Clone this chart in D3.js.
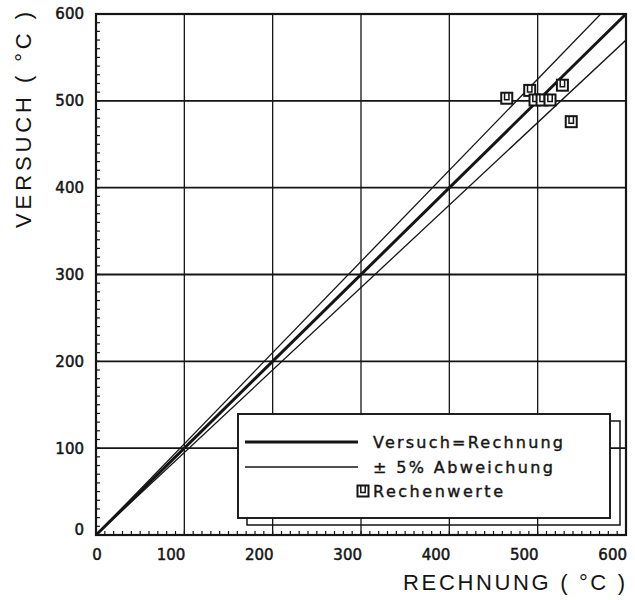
<!DOCTYPE html>
<html><head><meta charset="utf-8">
<script src="https://cdn.jsdelivr.net/npm/d3@7"></script>
<style>body{margin:0;background:#fff}svg{display:block}</style>
</head><body>
<svg id="c" width="635" height="600"></svg>
<script>
// ---- data ----
const xTicks = [0, 100, 200, 300, 400, 500, 600];
const yTicks = [0, 100, 200, 300, 400, 500, 600];
const rechnung = [465, 491, 497, 505, 514, 528, 538];   // x values (Rechnung)
const versuch  = [503, 512, 501, 501, 501, 518, 476];   // y values (Versuch)
const lineFactors = [1, 1.05, 0.95];                     // Versuch = f * Rechnung
const legendLabels = ["Versuch=Rechnung", "± 5% Abweichung", "Rechenwerte"];
const xTitle = "RECHNUNG ( °C )";
const yTitle = "VERSUCH ( °C )";

// ---- layout ----
const L = 96, R = 626, T = 14, B = 535;
const ink = "#151515";
const svg = d3.select("#c");
const x = d3.scaleLinear().domain([0, 600]).range([L, R]);
const y = d3.scaleLinear().domain([0, 600]).range([B, T]);

svg.append("rect").attr("width", 635).attr("height", 600).attr("fill", "#fff");

svg.append("clipPath").attr("id", "clip")
  .append("rect").attr("x", L).attr("y", T).attr("width", R - L).attr("height", B - T);

// grid
svg.append("g").selectAll("line").data(xTicks.filter(v => v > 0 && v < 600)).join("line")
  .attr("x1", d => x(d)).attr("x2", d => x(d)).attr("y1", T).attr("y2", B)
  .attr("stroke", ink).attr("stroke-width", 1.3);
svg.append("g").selectAll("line").data(yTicks.filter(v => v > 0 && v < 600)).join("line")
  .attr("x1", L).attr("x2", R).attr("y1", d => y(d)).attr("y2", d => y(d))
  .attr("stroke", ink).attr("stroke-width", 1.9);

// minor ticks (inward)
const minor = d3.range(10, 600, 10);
svg.append("g").selectAll("line").data(minor).join("line")
  .attr("x1", L).attr("x2", L + 4).attr("y1", d => y(d)).attr("y2", d => y(d))
  .attr("stroke", ink).attr("stroke-width", 1.2);
svg.append("g").selectAll("line").data(minor).join("line")
  .attr("x1", d => x(d)).attr("x2", d => x(d)).attr("y1", B).attr("y2", B - 4)
  .attr("stroke", ink).attr("stroke-width", 1.2);

// diagonal lines
const lineGen = d3.line().x(d => x(d[0])).y(d => y(d[1]));
svg.append("g").attr("clip-path", "url(#clip)").selectAll("path").data(lineFactors).join("path")
  .attr("d", f => lineGen([[0, 0], [600, 600 * f]]))
  .attr("fill", "none").attr("stroke", ink)
  .attr("stroke-width", (f, i) => i === 0 ? 3 : 1.3);

// frame
svg.append("rect").attr("x", L).attr("y", T).attr("width", R - L).attr("height", B - T)
  .attr("fill", "none").attr("stroke", ink).attr("stroke-width", 2.2);

// symbol
function sym(g, cx, cy) {
  g.append("rect").attr("x", cx - 5.5).attr("y", cy - 5.5).attr("width", 11).attr("height", 11)
    .attr("fill", "#fff").attr("stroke", ink).attr("stroke-width", 2);
  g.append("path").attr("d", `M${cx-2.2},${cy-5.5}V${cy+1.5}H${cx+2.2}V${cy-5.5}`)
    .attr("fill", "none").attr("stroke", ink).attr("stroke-width", 1.5);
}
const pts = svg.append("g");
rechnung.forEach((r, i) => sym(pts, x(r), y(versuch[i])));

// tick labels
const tickFont = "'DejaVu Sans', sans-serif";
svg.append("g").selectAll("text").data(yTicks).join("text")
  .attr("x", 84).attr("y", d => d === 0 ? y(d) - 5 : y(d))
  .attr("dy", "0.36em").attr("text-anchor", "end")
  .attr("font-family", tickFont).attr("font-size", 15).attr("fill", ink)
  .attr("stroke", ink).attr("stroke-width", 0.5)
  .text(d => d);
svg.append("g").selectAll("text").data(xTicks).join("text")
  .attr("x", d => x(d) + 1)
  .attr("y", 560)
  .attr("text-anchor", d => d === 0 ? "middle" : "end")
  .attr("font-family", tickFont).attr("font-size", 15).attr("fill", ink)
  .attr("stroke", ink).attr("stroke-width", 0.5)
  .text(d => d);

// axis titles
const titleFont = "'Liberation Sans', Arial, sans-serif";
svg.append("text").attr("x", 403).attr("y", 590)
  .attr("font-family", titleFont).attr("font-size", 22).attr("fill", ink)
  .attr("textLength", 222).attr("lengthAdjust", "spacing")
  .text(xTitle);
svg.append("text").attr("transform", "translate(31,228) rotate(-90)")
  .attr("font-family", titleFont).attr("font-size", 22).attr("fill", ink)
  .attr("textLength", 216).attr("lengthAdjust", "spacing")
  .text(yTitle);

// legend
const lg = svg.append("g");
lg.append("rect").attr("x", 247).attr("y", 421).attr("width", 373).attr("height", 104)
  .attr("fill", "none").attr("stroke", ink).attr("stroke-width", 1.5);
lg.append("rect").attr("x", 238).attr("y", 414).attr("width", 372).attr("height", 104)
  .attr("fill", "#fff").attr("stroke", ink).attr("stroke-width", 1.9);
const legFont = "'DejaVu Sans', sans-serif";
[[442, 3], [467, 1.4]].forEach(([yy, w]) => {
  lg.append("line").attr("x1", 245).attr("x2", 358).attr("y1", yy).attr("y2", yy)
    .attr("stroke", ink).attr("stroke-width", w);
});
const legY = [448, 473, 497];
const legLen = [190, 180, 130];
legendLabels.forEach((t, i) => {
  lg.append("text").attr("x", 373).attr("y", legY[i])
    .attr("font-family", legFont).attr("font-size", 16).attr("fill", ink)
    .attr("stroke", ink).attr("stroke-width", 0.4)
    .attr("textLength", legLen[i]).attr("lengthAdjust", "spacing")
    .text(t);
});
sym(lg, 363, 491);
</script>
</body></html>
